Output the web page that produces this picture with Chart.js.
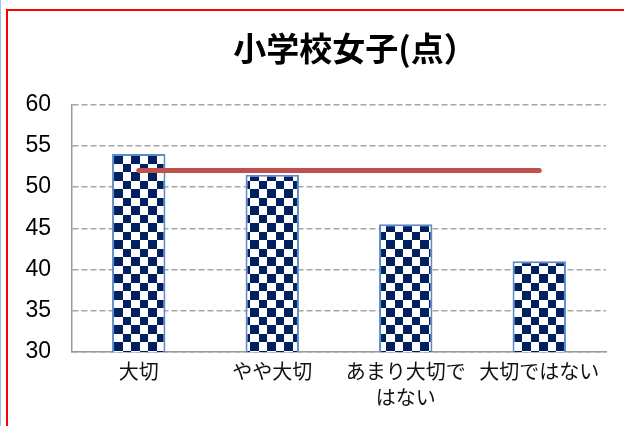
<!DOCTYPE html>
<html>
<head>
<meta charset="utf-8">
<script src="https://cdn.jsdelivr.net/npm/chart.js@4"></script>
<style>
  html, body { margin: 0; padding: 0; background: #fff; overflow: hidden; }
  body { width: 624px; height: 426px; position: relative; }
  #edge { position: absolute; left: 0; top: 0; width: 1px; height: 426px; background: #9cc3e5; }
  #frame { position: absolute; left: 6px; top: 9px; width: 1000px; height: 1000px; border: 2px solid #ff0000; }
  #wrap { position: absolute; left: 0; top: 0; width: 710px; height: 426px; }
</style>
</head>
<body>
<div id="edge"></div>
<div id="frame"></div>
<div id="wrap"><canvas id="chart" width="710" height="426"></canvas></div>
<script>
// data
const categories = ['大切', 'やや大切', ['あまり大切で', 'はない'], '大切ではない'];
const scores = [54.0, 51.5, 45.5, 41.0];
const reference = [52.0, 52.0, 52.0, 52.0];
const yTicks = { min: 30, max: 60, step: 5 };

// checkerboard fill like the excel pattern (cells ~8.5px)
function makeChecker() {
    const c = document.createElement('canvas');
    c.width = 34;
    c.height = 34;
    const g = c.getContext('2d');
    g.fillStyle = '#ffffff';
    g.fillRect(0, 0, 34, 34);
    g.fillStyle = '#002060';
    const edges = [0, 9, 17, 26, 34];
    for (let i = 0; i < 4; i++) {
        for (let j = 0; j < 4; j++) {
            if ((i + j) % 2 === 0) {
                g.fillRect(edges[i], edges[j], edges[i + 1] - edges[i], edges[j + 1] - edges[j]);
            }
        }
    }
    const p = g.createPattern(c, 'repeat');
    p.setTransform(new DOMMatrix([1, 0, 0, 1, 12, 2]));
    return p;
}

const ctx = document.getElementById('chart').getContext('2d');
new Chart(ctx, {
    type: 'bar',
    data: {
        labels: categories,
        datasets: [{
            type: 'line',
            data: reference,
            borderColor: '#c0504d',
            borderWidth: 5,
            borderCapStyle: 'round',
            pointRadius: 0,
            fill: false,
            order: 0
        }, {
            data: scores,
            backgroundColor: makeChecker(),
            borderColor: '#5b8bc7',
            borderWidth: 2,
            barPercentage: 0.4,
            categoryPercentage: 1,
            order: 1
        }]
    },
    options: {
        responsive: false,
        animation: false,
        layout: { padding: { left: 10, right: 10, top: 0, bottom: 0 } },
        plugins: {
            legend: { display: false },
            tooltip: { enabled: false },
            title: {
                display: true,
                text: '小学校女子(点）',
                color: '#000',
                font: { family: '"Noto Sans CJK JP"', size: 33, weight: 'bold', lineHeight: 1.2 },
                padding: { top: 29, bottom: 36 }
            }
        },
        scales: {
            x: {
                grid: { display: false, drawTicks: false },
                border: { display: true, color: '#9a9a9a', width: 1.5 },
                ticks: {
                    color: '#111',
                    padding: 6,
                    maxRotation: 0,
                    autoSkip: false,
                    font: { family: '"Noto Sans CJK JP"', size: 20, lineHeight: 1.3 }
                },
                afterFit: s => { s.height = 74; }
            },
            y: {
                min: yTicks.min,
                max: yTicks.max,
                ticks: {
                    stepSize: yTicks.step,
                    color: '#000',
                    padding: 21,
                    font: { family: '"Liberation Sans", Arial', size: 23 }
                },
                grid: { color: '#a6a6a6', lineWidth: 1.5, drawTicks: false },
                border: { display: true, color: '#9a9a9a', width: 1.5, dash: [6, 3] },
                afterFit: s => { s.width = 62; }
            },
            // empty box on the right so the title centres like the original
            pad: {
                position: 'right',
                display: true,
                grid: { display: false, drawTicks: false },
                border: { display: false },
                ticks: { display: false },
                afterFit: s => { s.width = 94; }
            }
        }
    }
});
</script>
</body>
</html>
